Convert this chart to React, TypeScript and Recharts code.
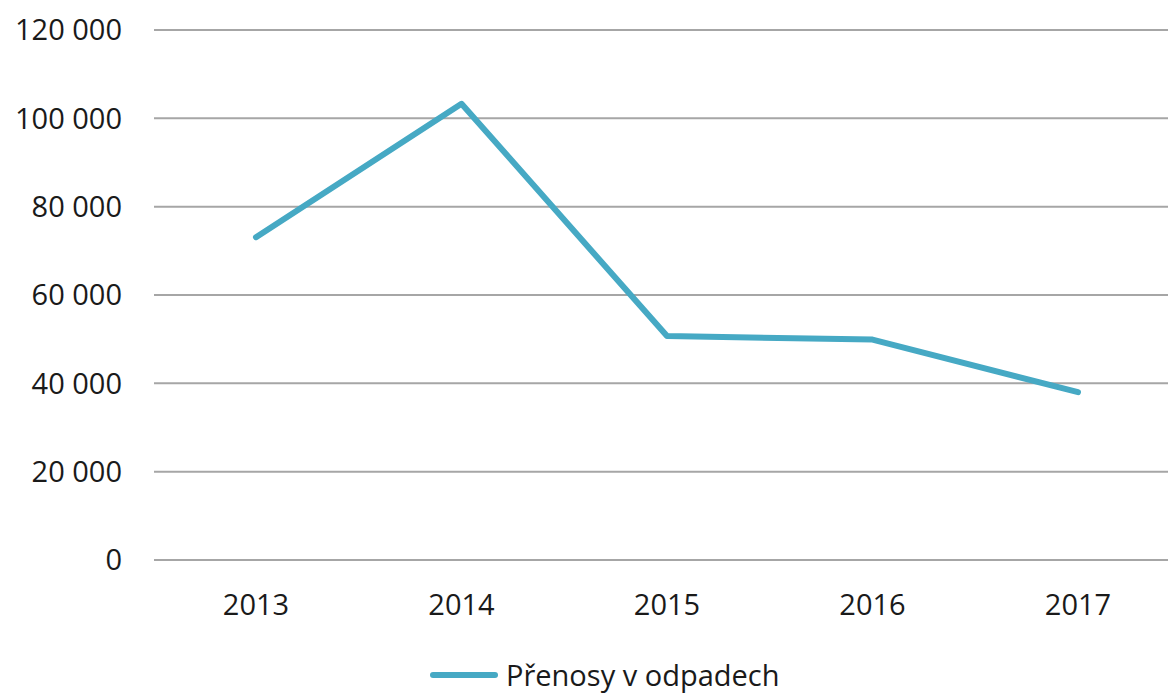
import { LineChart, Line, XAxis, YAxis, CartesianGrid } from 'recharts'

const years = ['2013', '2014', '2015', '2016', '2017']
const transfers = [73100, 103300, 50700, 49900, 38000]
const yTicks = [0, 20000, 40000, 60000, 80000, 100000, 120000]

const data = years.map((year, i) => ({ year, value: transfers[i] }))

const LINE_COLOR = '#46a9c4'
const GRID_COLOR = '#a6a6a6'
const FONT = '"Open Sans", sans-serif'

const fmt = (v: number) => (v === 0 ? '0' : `${Math.floor(v / 1000)} ${String(v % 1000).padStart(3, '0')}`)

function ChartLegend() {
  return (
    <div
      style={{
        position: 'absolute',
        left: 430,
        top: 655,
        display: 'flex',
        alignItems: 'center',
        fontFamily: FONT,
        fontSize: 29,
        color: '#1a1a1a',
        whiteSpace: 'nowrap',
      }}
    >
      <span style={{ display: 'inline-block', width: 68, height: 6, borderRadius: 3, background: LINE_COLOR, marginRight: 8 }} />
      <span>Přenosy v odpadech</span>
    </div>
  )
}

export default function App() {
  return (
    <div style={{ position: 'relative', width: 1168, height: 693, overflow: 'hidden' }}>
      <style>{'html,body{margin:0;padding:0;overflow:hidden}'}</style>
      <LineChart width={1180} height={693} data={data} margin={{ top: 30, right: 0, bottom: 0, left: 0 }}>
        <CartesianGrid stroke={GRID_COLOR} strokeWidth={2} vertical={false} />
        <XAxis
          dataKey="year"
          padding={{ left: 102, right: 102 }}
          axisLine={{ stroke: GRID_COLOR, strokeWidth: 2 }}
          tickLine={false}
          tickMargin={28}
          height={133}
          tick={{ fill: '#1a1a1a', fontSize: 29, fontFamily: FONT }}
        />
        <YAxis
          width={154}
          domain={[0, 120000]}
          ticks={yTicks}
          interval={0}
          tickFormatter={fmt}
          axisLine={false}
          tickLine={false}
          tickMargin={26}
          tick={{ fill: '#1a1a1a', fontSize: 29, fontFamily: FONT }}
        />
        <Line
          type="linear"
          dataKey="value"
          stroke={LINE_COLOR}
          strokeWidth={6}
          strokeLinecap="round"
          strokeLinejoin="round"
          dot={false}
          activeDot={false}
          isAnimationActive={false}
        />
      </LineChart>
      <ChartLegend />
    </div>
  )
}
